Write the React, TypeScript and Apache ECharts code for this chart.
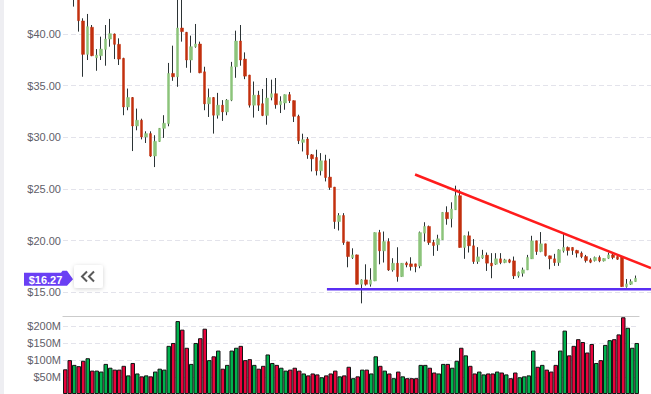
import React, { useEffect, useRef } from 'react';
import * as echarts from 'echarts';

// ---- data ----
const OPEN = [46.5,45.2,43.9,45.0,41.26,38.03,40.65,37.70,37.9,38.51,39.51,40.0,39.0,37.64,32.94,33.85,31.1,31.65,30.03,30.36,28.19,29.6,30.87,31.33,36.18,35.86,40.58,40.16,37.48,38.77,39.03,36.34,33.24,33.85,32.14,33.11,32.46,33.6,36.83,39.32,37.57,36.02,33.11,34.08,
33.25,32.12,33.87,34.22,33.16,33.32,34.13,33.55,32.03,29.51,29.83,28.31,28.05,26.76,27.73,26.15,25.18,21.85,22.43,19.88,18.36,18.62,15.78,16.20,15.78,16.10,20.78,19.01,19.91,17.16,17.81,16.52,17.84,17.75,17.75,17.55,20.72,21.37,
19.82,19.60,20.08,22.73,22.12,22.99,24.35,19.34,20.47,19.50,17.98,18.33,18.59,17.82,17.72,18.24,17.88,18.14,18.04,16.59,16.84,17.17,18.24,19.98,18.95,19.69,18.53,18.24,17.88,19.01,19.34,19.34,19.05,18.79,18.46,18.14,18.07,18.37,18.04,18.30,18.62,18.46,18.46,15.55,15.78,16.04];

const CLOSE = [45.2,44.2,45.0,41.29,38.03,40.71,37.9,37.96,38.54,39.51,40.03,39.0,37.57,32.94,33.85,31.1,31.65,30.03,30.36,28.19,29.61,30.87,31.36,36.18,35.86,40.58,40.23,37.48,38.77,39.03,36.25,33.24,33.85,32.14,33.11,32.46,33.6,36.83,39.32,37.48,35.92,33.11,34.08,33.11,
32.12,33.80,34.22,33.16,33.48,34.13,33.55,32.03,29.67,29.77,28.31,27.92,26.76,27.73,26.11,25.15,21.85,22.43,19.81,18.46,18.62,15.78,16.20,15.78,16.20,20.78,19.01,19.91,17.16,17.81,16.52,17.81,17.65,17.49,17.49,20.78,21.37,19.81,
19.53,20.18,22.73,22.12,23.06,24.35,19.34,20.47,19.50,17.98,18.43,18.59,17.82,17.56,18.24,17.88,18.14,17.91,16.59,16.94,17.17,18.37,19.98,18.95,19.69,18.56,18.24,17.88,19.11,19.34,19.05,19.05,18.79,18.46,18.07,17.91,18.37,18.04,18.27,18.62,18.37,18.20,15.55,15.81,16.04,16.35];

const LOW = [44.8,43.9,42.65,40.23,35.86,37.48,37.85,36.44,37.48,36.93,38.77,37.57,37.0,32.14,32.62,28.67,30.68,29.8,29.45,28.1,27.12,29.55,29.94,31.07,35.47,34.89,39.26,36.73,36.25,38.67,36.2,32.62,31.97,30.36,31.81,31.59,32.14,33.5,35.76,36.93,35.63,32.88,31.91,32.55,
32.05,31.22,33.58,32.77,32.35,32.67,33.32,31.48,29.35,28.63,27.92,26.70,26.31,26.31,25.73,24.92,21.14,20.98,19.59,17.42,18.23,15.75,13.93,15.65,15.55,16.08,17.71,17.88,17.07,17.00,16.03,16.50,17.42,17.10,16.94,17.33,19.91,19.59,
18.53,19.01,20.06,21.54,21.28,22.97,19.32,18.24,18.85,17.75,17.75,18.24,17.07,16.36,17.65,17.72,17.82,17.82,16.29,16.42,16.52,17.15,18.22,18.62,18.88,18.46,17.23,17.56,17.56,18.85,18.56,18.62,18.37,18.30,17.88,17.82,17.98,17.91,17.98,18.24,18.20,18.14,15.53,15.45,15.71,16.02];

const HIGH = [47.0,45.8,45.5,45.3,41.52,41.94,40.87,38.54,39.74,40.87,41.46,40.05,39.58,37.7,34.72,33.9,32.78,31.8,30.58,30.58,30.2,30.9,32.14,37.2,38.87,44.2,43.8,40.2,39.84,40.97,39.26,36.83,34.72,33.9,34.3,33.6,33.7,37.3,40.32,40.87,38.22,36.05,35.4,34.5,
34.68,35.74,35.58,35.74,33.97,34.15,34.39,33.57,32.19,30.35,30.02,28.38,28.80,28.47,28.31,27.92,25.2,22.66,22.66,19.9,19.26,18.65,16.26,17.71,17.33,20.8,21.04,20.88,20.23,18.30,19.36,17.83,17.97,18.39,17.77,20.88,21.78,21.46,
20.08,20.57,22.75,23.32,23.71,25.32,24.94,20.49,20.89,20.15,19.37,19.11,18.85,18.79,18.79,18.79,18.24,18.24,18.46,17.01,17.39,18.62,20.47,20.0,20.83,19.71,18.55,18.72,19.17,20.66,19.43,19.36,19.11,18.95,18.62,18.30,18.46,18.56,18.29,18.85,18.72,18.48,18.48,16.29,16.26,16.62];

// volume, millions of dollars
const VOLUME = [72.8,99.9,85.9,82.1,98.0,105.5,69.0,69.0,66.2,88.8,77.5,71.9,71.9,83.1,54.9,91.5,60.6,52.1,54.9,52.1,66.2,74.7,71.9,142.0,150.5,215.1,189.8,136.4,88.8,150.5,164.5,192.6,99.9,111.2,128.1,74.7,85.9,128.1,136.4,142.0,99.9,102.8,85.9,74.7,
83.1,116.6,91.5,85.9,77.5,69.0,71.9,77.5,69.0,60.6,54.9,60.6,57.8,49.4,54.9,60.6,69.0,52.1,54.9,80.3,46.6,52.1,71.9,71.9,60.6,111.2,83.1,69.0,60.6,46.6,66.2,52.1,46.6,46.6,46.6,85.9,85.9,77.5,63.4,60.6,88.8,88.8,77.5,98.0,
136.4,114.0,83.1,60.6,66.2,57.8,60.6,60.6,66.2,63.4,57.8,46.6,63.4,49.4,52.1,54.9,128.1,80.3,85.9,71.9,66.2,85.9,128.1,187.0,114.0,142.0,161.7,153.3,122.4,147.5,91.5,99.9,144.8,158.8,161.7,175.8,226.3,195.4,136.4,150.5];

const FUTURE_SLOTS = ['F1', 'F2', 'F3'];
const CATEGORIES = OPEN.map((_, i) => 'D' + (i + 1));
const PRICE_CATEGORIES = CATEGORIES.concat(FUTURE_SLOTS);

// trend lines: [category index, price]
const RESISTANCE = [[77.94, 26.40], [130.5, 17.34]];
const SUPPORT = [[58.3, 15.3], [130.5, 15.3]];
const LAST_PRICE = 16.27;

const UP = '#8cc47b';
const DOWN = '#c2300e';
const WICK = '#2b3335';
const VOL_UP = '#00b24d';
const VOL_DOWN = '#e8033c';
const FONT = 'Liberation Sans, Arial, sans-serif';

export default function App() {
  const ref = useRef<HTMLDivElement>(null);

  useEffect(() => {
    document.body.style.margin = '0';
    const chart = echarts.init(ref.current!, null, { renderer: 'svg' });

    const candles = OPEN.map((o, i) => [o, CLOSE[i], LOW[i], HIGH[i]]);
    const bodies = OPEN.map((o, i) => [o, CLOSE[i], Math.min(o, CLOSE[i]), Math.max(o, CLOSE[i])]);
    const volumes = VOLUME.map((v, i) => ({
      value: v,
      itemStyle: { color: CLOSE[i] >= OPEN[i] ? VOL_UP : VOL_DOWN },
    }));

    const splitLine = { show: true, showMaxLine: false, lineStyle: { color: '#e3e3eb', type: [5, 3] as any, width: 1 } };
    const axisLabel = { color: '#5f6069', fontSize: 11, fontFamily: FONT, margin: 2 };

    chart.setOption({
      animation: false,
      grid: [
        { left: 63, top: 0, width: 589.5, height: 292.3 },
        { left: 63, top: 316.7, width: 576, height: 81.2 },
      ],
      xAxis: [
        { type: 'category', gridIndex: 0, data: PRICE_CATEGORIES, boundaryGap: true,
          axisLine: { show: false }, axisTick: { show: false }, axisLabel: { show: false }, splitLine: { show: false } },
        { type: 'category', gridIndex: 1, data: CATEGORIES, boundaryGap: true, position: 'top',
          axisLine: { show: true, onZero: false, lineStyle: { color: '#cbcbcb', width: 1.2 } },
          axisTick: { show: false }, axisLabel: { show: false }, splitLine: { show: false } },
        { type: 'value', gridIndex: 0, min: -0.5, max: PRICE_CATEGORIES.length - 0.5, show: false },
      ],
      yAxis: [
        { type: 'value', gridIndex: 0, min: 15, max: 43.29, interval: 5, position: 'left',
          axisLine: { show: false }, axisTick: { show: false },
          axisLabel: { ...axisLabel, showMaxLabel: false, formatter: (v: number) => '$' + v.toFixed(2) },
          splitLine },
        { type: 'value', gridIndex: 1, min: 0, max: 228, interval: 50, position: 'left',
          axisLine: { show: false }, axisTick: { show: false },
          axisLabel: { ...axisLabel, showMinLabel: false, showMaxLabel: false, formatter: (v: number) => '$' + v + 'M' },
          splitLine },
      ],
      series: [
        { type: 'bar', name: 'Volume', xAxisIndex: 1, yAxisIndex: 1, data: volumes,
          barWidth: '100%', barCategoryGap: '0%',
          itemStyle: { borderColor: '#151515', borderWidth: 1 } },
        { type: 'candlestick', name: 'wick', xAxisIndex: 0, yAxisIndex: 0, data: candles,
          barWidth: 1, clip: false, z: 3,
          itemStyle: { color: WICK, color0: WICK, borderColor: WICK, borderColor0: WICK, borderWidth: 1 } },
        { type: 'candlestick', name: 'body', xAxisIndex: 0, yAxisIndex: 0, data: bodies,
          barWidth: 3, clip: false, z: 4,
          itemStyle: { color: UP, color0: DOWN, borderColor: UP, borderColor0: DOWN, borderWidth: 0.5 } },
        { type: 'line', name: 'resistance', xAxisIndex: 2, yAxisIndex: 0, data: RESISTANCE,
          symbol: 'none', silent: true, z: 6, lineStyle: { color: '#ff1c1c', width: 2.5 } },
        { type: 'line', name: 'support', xAxisIndex: 2, yAxisIndex: 0, data: SUPPORT,
          symbol: 'none', silent: true, z: 6, lineStyle: { color: '#5a2ef3', width: 2.5 } },
      ],
    });

    const c = chart.convertToPixel({ yAxisIndex: 0 }, LAST_PRICE) as number;
    chart.setOption({
      graphic: [
        { type: 'rect', left: 0, top: 0, shape: { x: 0, y: 0, width: 4, height: 394 }, style: { fill: '#eeeef2' }, silent: true },
        { type: 'polygon', z: 100,
          shape: { points: [[24, c - 6.5], [61, c - 6.5], [62.5, c - 8.5], [67, c - 8.5], [73, c], [67, c + 6.5], [24, c + 6.5]] },
          style: { fill: '#6a3ff4' } },
        { type: 'text', z: 101, x: 45.5, y: c + 0.5,
          style: { text: '$' + LAST_PRICE.toFixed(2), fill: '#ffffff', font: 'bold 11px ' + FONT, align: 'center', verticalAlign: 'middle' } },
        { type: 'rect', z: 100, shape: { x: 74, y: 265, width: 29, height: 23, r: 3 },
          style: { fill: '#ffffff', shadowBlur: 4, shadowColor: 'rgba(0,0,0,0.18)', shadowOffsetY: 1 } },
        { type: 'polyline', z: 101, shape: { points: [[87, 271.5], [82, 276.5], [87, 281.5]] },
          style: { stroke: '#5a5a5a', lineWidth: 2, fill: 'none' } },
        { type: 'polyline', z: 101, shape: { points: [[94, 271.5], [89, 276.5], [94, 281.5]] },
          style: { stroke: '#5a5a5a', lineWidth: 2, fill: 'none' } },
      ],
    });

    return () => chart.dispose();
  }, []);

  return <div ref={ref} style={{ width: 651, height: 394 }} />;
}
